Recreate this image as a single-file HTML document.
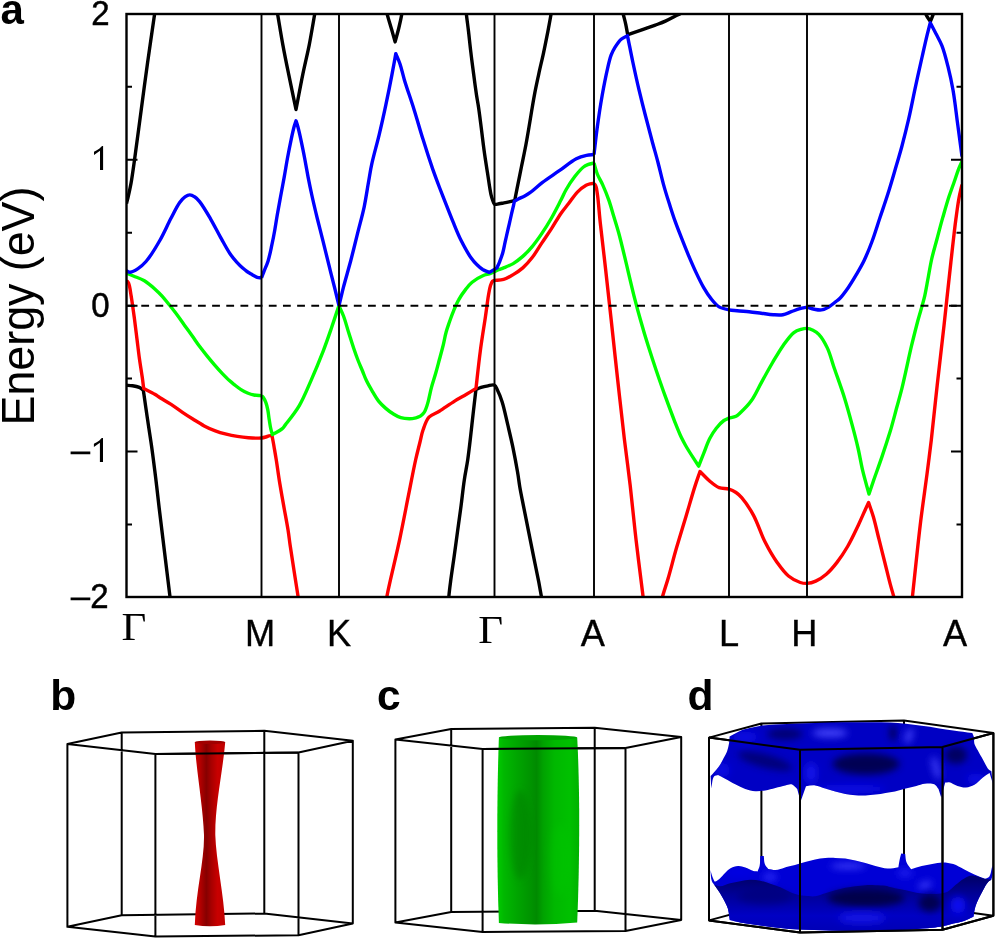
<!DOCTYPE html><html><head><meta charset="utf-8"><style>html,body{margin:0;padding:0;background:#fff;}svg{display:block;will-change:transform;}</style></head><body>
<svg width="995" height="939" viewBox="0 0 995 939">
<defs>
<linearGradient id="redg" x1="0" y1="0" x2="1" y2="0">
 <stop offset="0" stop-color="#d20000"/><stop offset="0.12" stop-color="#c00000"/><stop offset="0.38" stop-color="#860000"/><stop offset="0.55" stop-color="#a80000"/><stop offset="0.75" stop-color="#c80000"/><stop offset="1" stop-color="#c00000"/>
</linearGradient>
<linearGradient id="greeng" x1="0" y1="0" x2="1" y2="0">
 <stop offset="0" stop-color="#00cc00"/><stop offset="0.08" stop-color="#00b800"/><stop offset="0.25" stop-color="#00a400"/><stop offset="0.42" stop-color="#009200"/><stop offset="0.48" stop-color="#008a00"/><stop offset="0.56" stop-color="#00a200"/><stop offset="0.7" stop-color="#00b800"/><stop offset="0.88" stop-color="#00c000"/><stop offset="1" stop-color="#00b200"/>
</linearGradient>
</defs>
<clipPath id="pc"><rect x="126.5" y="14" width="835.5" height="583"/></clipPath>
<g clip-path="url(#pc)" fill="none" stroke-width="3.4" stroke-linejoin="round" stroke-linecap="butt">
<path d="M126.5,203.5 C127.0,201.5 127.4,199.9 128.0,197.5 C128.9,193.8 130.0,188.7 131.0,183.4 C132.2,176.6 133.2,169.2 134.5,159.9 C136.4,146.4 139.0,126.4 141.2,110.0 C143.3,94.1 145.3,79.0 147.5,63.2 C149.8,47.0 153.5,21.3 154.6,14.0 C154.9,11.9 155.0,11.3 155.2,10.0" stroke="#000000"/>
<path d="M126.5,385.3 C128.5,385.4 130.5,385.4 132.5,385.7 C134.7,386.0 137.4,386.5 139.3,387.4 C140.9,388.1 142.0,389.3 143.3,390.2 C144.0,394.8 144.6,399.2 145.3,404.0 C146.1,409.4 146.8,414.7 147.8,421.1 C149.0,429.5 150.8,440.4 152.1,449.9 C153.4,459.3 154.5,468.5 155.7,478.0 C156.9,487.9 157.7,495.5 159.2,508.2 C161.8,529.8 168.5,584.7 169.9,596.0 C170.2,598.7 170.3,599.3 170.5,601.0" stroke="#000000"/>
<path d="M276.8,10.0 C277.1,11.4 277.2,12.1 277.6,14.1 C278.6,19.6 281.0,34.9 282.9,45.1 C284.7,55.0 286.6,64.2 288.7,74.4 C291.0,85.6 293.6,97.8 296.0,109.5 C298.3,97.8 300.5,85.6 302.8,74.4 C304.9,64.2 307.2,55.0 309.2,45.1 C311.2,34.9 313.7,19.6 314.7,14.1 C315.0,12.1 315.2,11.4 315.4,10.0" stroke="#000000"/>
<path d="M386.2,10.0 C386.5,11.4 386.6,12.3 387.1,14.1 C388.0,17.5 390.1,24.2 391.5,29.0 C392.8,33.4 393.9,37.6 395.1,41.9 C396.3,37.3 397.7,32.6 398.8,28.0 C399.9,23.4 401.2,17.4 401.8,14.1 C402.1,12.3 402.3,11.4 402.5,10.0" stroke="#000000"/>
<path d="M466.2,10.0 C466.3,11.3 466.2,12.2 466.4,14.0 C466.7,17.7 467.8,25.2 468.5,31.3 C469.3,38.0 470.0,45.5 470.9,52.6 C471.7,59.7 472.7,66.7 473.6,73.8 C474.5,80.9 475.6,89.0 476.5,95.1 C477.2,99.6 477.8,102.5 478.5,107.0 C479.4,112.9 480.3,120.4 481.2,127.4 C482.1,134.7 483.0,142.3 484.0,149.8 C485.0,157.3 486.2,164.7 487.4,172.2 C488.6,179.7 489.8,189.6 491.0,194.6 C491.6,197.2 492.1,198.8 492.8,200.5 C493.3,201.9 493.5,203.6 494.5,204.2 C495.5,204.8 497.5,204.0 499.0,203.8 C500.6,203.6 502.3,203.2 504.0,202.9 C505.7,202.6 507.3,202.3 509.0,201.9 C510.8,201.5 512.8,201.0 514.7,200.6 C515.4,196.9 516.0,193.8 516.9,189.4 C518.1,183.2 519.9,174.5 521.4,167.0 C522.9,159.6 524.5,152.2 525.9,144.7 C527.3,137.3 528.7,128.7 529.8,122.3 C530.6,117.6 531.1,114.3 531.8,110.0 C532.6,105.3 533.4,100.5 534.4,95.1 C535.6,88.6 537.3,80.9 538.8,73.8 C540.3,66.7 542.1,59.7 543.6,52.6 C545.1,45.5 546.6,38.0 547.9,31.3 C549.1,25.2 550.4,17.7 551.1,14.0 C551.4,12.2 551.6,11.3 551.8,10.0" stroke="#000000"/>
<path d="M448.5,601.0 C448.6,599.3 448.7,598.1 448.9,596.0 C449.2,592.5 449.8,587.5 450.5,582.2 C451.4,575.0 452.9,565.2 454.1,556.7 C455.3,548.2 456.4,539.6 457.6,531.1 C458.8,522.6 460.0,514.1 461.1,505.6 C462.2,497.1 463.1,488.0 464.3,480.0 C465.3,472.9 466.7,466.9 467.7,460.0 C468.8,452.5 469.7,444.3 470.6,436.5 C471.5,428.7 472.3,420.9 473.2,413.1 C474.1,405.3 475.0,397.5 475.9,389.7 C477.6,388.9 479.2,388.0 481.1,387.4 C483.2,386.7 485.7,386.2 488.0,385.8 C490.2,385.4 492.9,384.4 494.5,385.2 C495.9,385.9 496.3,387.8 497.3,389.7 C498.8,392.7 500.5,396.8 502.0,401.5 C504.1,407.9 505.9,417.1 507.8,424.9 C509.6,432.7 511.5,440.6 513.1,448.4 C514.7,456.2 516.3,464.8 517.5,471.8 C518.5,477.4 518.9,481.7 519.8,487.0 C520.8,492.9 522.1,498.9 523.4,505.6 C524.9,513.4 526.8,522.6 528.5,531.1 C530.2,539.6 531.9,548.2 533.6,556.7 C535.3,565.2 537.4,575.0 538.8,582.2 C539.8,587.5 540.7,592.5 541.3,596.0 C541.7,598.1 541.9,599.3 542.2,601.0" stroke="#000000"/>
<path d="M622.5,10.0 C622.7,11.3 622.9,12.4 623.2,14.0 C623.8,16.6 625.0,20.7 625.7,24.1 C626.5,27.6 627.0,31.2 627.7,34.8 C630.2,33.9 632.5,33.0 635.2,32.1 C638.3,31.0 641.9,29.8 645.3,28.6 C648.6,27.4 652.0,26.3 655.3,25.1 C658.7,23.8 662.1,22.6 665.4,21.1 C668.8,19.6 672.6,17.4 675.4,16.0 C677.4,15.0 679.0,14.4 680.5,13.5 C681.8,12.7 682.8,11.8 684.0,11.0" stroke="#000000"/>
<path d="M925.0,10.0 C925.2,11.3 925.1,12.5 925.7,14.0 C926.5,16.2 928.8,19.0 930.3,21.5 C931.3,19.0 932.7,16.1 933.4,14.0 C933.9,12.5 934.1,11.3 934.5,10.0" stroke="#000000"/>
<path d="M126.5,280.5 C127.2,281.4 128.0,281.9 128.6,283.3 C129.8,285.9 130.4,291.4 131.1,295.6 C131.8,299.8 132.4,304.2 133.0,308.4 C133.6,312.4 134.0,315.6 134.6,320.0 C135.3,325.6 136.2,332.8 137.0,339.2 C137.8,345.6 138.5,352.0 139.4,358.4 C140.3,364.8 141.5,372.1 142.3,377.6 C142.9,381.8 143.2,384.9 143.7,388.6 C147.4,390.5 151.8,392.6 154.8,394.3 C156.9,395.5 157.9,396.4 160.0,397.7 C163.0,399.6 167.4,402.0 171.1,404.4 C174.8,406.8 178.4,409.6 182.1,412.1 C185.8,414.6 189.5,417.0 193.2,419.3 C196.9,421.6 200.5,423.9 204.2,425.9 C207.8,427.8 211.6,429.5 215.3,430.9 C218.9,432.3 222.6,433.3 226.3,434.2 C230.0,435.1 233.7,435.8 237.4,436.4 C241.1,437.0 245.1,437.5 248.4,437.8 C251.2,438.0 253.7,438.1 256.0,438.1 C258.0,438.1 259.8,438.2 261.5,438.0 C263.0,437.8 264.4,437.4 265.8,437.0 C267.2,436.6 268.6,435.7 269.8,435.6 C270.7,435.5 271.3,435.9 272.1,436.0 C272.7,439.5 273.4,442.8 274.0,446.5 C274.7,450.6 275.4,454.5 276.2,459.5 C277.3,466.2 278.4,475.1 279.7,482.9 C281.0,490.7 282.4,498.6 283.8,506.4 C285.2,514.2 286.9,522.8 288.0,529.8 C288.9,535.4 289.3,539.4 290.1,545.1 C291.2,552.5 292.7,562.0 294.0,570.5 C295.3,579.0 297.2,590.8 298.0,596.0 C298.4,598.3 298.5,599.3 298.8,601.0" stroke="#ff0000"/>
<path d="M386.5,601.0 C386.7,599.3 386.6,598.6 387.0,596.0 C388.4,587.3 396.1,556.5 399.8,538.8 C403.0,523.6 405.6,509.8 408.3,496.2 C410.8,483.6 413.4,470.0 415.6,460.0 C417.2,452.9 418.7,447.4 420.0,442.0 C421.1,437.5 421.7,433.8 423.1,429.8 C424.6,425.6 426.1,420.3 429.0,417.2 C431.7,414.3 435.6,413.6 439.3,411.3 C443.9,408.4 449.8,404.1 454.6,401.1 C458.8,398.5 462.8,396.5 466.5,394.3 C469.9,392.3 472.8,390.4 476.0,388.4 C477.4,376.0 478.7,363.2 480.3,351.1 C481.8,339.5 483.9,327.1 485.4,317.0 C486.6,308.9 487.5,300.8 488.5,295.0 C489.2,291.2 489.7,288.0 490.5,285.5 C491.1,283.8 491.7,282.1 492.5,281.3 C493.1,280.7 493.8,280.7 494.5,280.4" stroke="#ff0000"/>
<path d="M494.5,280.4 C497.5,280.1 500.6,280.3 503.6,279.4 C506.8,278.4 510.1,276.5 513.2,274.6 C516.5,272.7 519.7,270.6 522.8,267.9 C526.2,264.9 529.4,261.2 532.4,257.3 C535.7,253.0 538.7,247.7 541.9,242.9 C545.1,238.1 548.3,233.5 551.5,228.6 C554.7,223.6 558.0,217.7 561.1,213.2 C563.7,209.5 566.2,206.7 568.8,203.3 C571.6,199.7 574.3,195.2 577.4,192.1 C580.1,189.3 583.7,186.5 586.1,185.2 C587.6,184.4 588.7,184.1 590.0,183.8 C591.3,183.5 592.7,183.6 594.0,183.5" stroke="#ff0000"/>
<path d="M594.0,183.5 C594.6,184.3 595.3,184.8 595.8,186.0 C596.7,188.0 596.9,191.1 597.5,195.0 C598.5,201.9 599.2,213.3 600.4,224.0 C601.8,237.4 603.9,253.8 605.6,269.3 C607.4,285.7 609.3,302.4 611.2,320.0 C613.3,339.2 615.5,360.1 617.7,380.0 C619.9,399.7 622.1,420.2 624.3,438.6 C626.3,455.1 628.3,469.3 630.2,485.5 C632.2,502.8 633.9,521.2 636.0,539.4 C638.2,558.0 641.9,587.4 643.0,596.0 C643.3,598.6 643.4,599.3 643.6,601.0" stroke="#ff0000"/>
<path d="M661.8,601.0 C662.1,599.3 662.2,598.2 662.7,596.0 C663.7,591.9 666.2,585.2 668.1,578.5 C670.7,569.7 673.6,557.9 676.6,547.6 C679.6,537.3 682.8,527.0 685.9,516.7 C689.0,506.4 692.4,494.2 695.1,485.9 C696.9,480.2 698.4,476.3 700.0,471.5 C703.2,474.7 706.3,478.2 709.6,481.0 C712.7,483.6 715.7,486.4 719.1,487.7 C722.2,488.9 726.0,488.2 729.0,489.1 C731.6,489.9 733.9,491.1 736.0,492.5 C738.1,493.9 739.6,495.2 741.7,497.6 C745.1,501.6 749.8,508.5 753.4,515.1 C757.7,523.0 760.9,533.9 765.1,542.1 C768.8,549.4 772.6,556.1 776.8,562.0 C780.5,567.2 784.2,572.5 788.5,576.0 C792.2,579.0 796.8,581.4 800.3,582.5 C802.8,583.3 804.6,583.5 807.0,583.4 C809.7,583.2 812.8,582.4 815.7,581.1 C819.2,579.6 822.9,577.1 826.3,574.2 C830.1,571.0 833.6,566.8 837.0,562.4 C840.7,557.6 844.2,552.3 847.6,546.5 C851.4,540.0 855.4,531.3 858.3,525.2 C860.4,520.7 861.9,517.3 863.6,513.4 C865.3,509.7 866.9,506.1 868.6,502.5 C870.2,507.4 871.9,511.8 873.5,517.3 C875.4,524.0 877.2,532.2 879.1,539.7 C881.0,547.1 882.8,554.6 884.7,562.0 C886.6,569.5 888.6,578.2 890.3,584.4 C891.5,588.9 892.8,592.9 893.6,596.0 C894.1,598.0 894.4,599.3 894.8,601.0" stroke="#ff0000"/>
<path d="M911.9,601.0 C912.1,599.3 912.2,598.6 912.5,596.0 C913.6,586.1 917.6,546.9 920.2,525.2 C922.4,506.8 925.0,489.4 927.0,474.1 C928.6,461.6 929.8,452.7 931.3,440.0 C933.2,423.9 935.1,403.8 937.2,385.2 C939.4,365.7 941.8,345.8 944.0,325.6 C946.3,304.7 948.7,281.2 950.9,262.0 C952.7,246.0 954.4,230.0 956.0,218.2 C957.1,210.2 957.9,204.0 959.0,198.0 C959.9,193.0 961.0,189.0 962.0,184.5" stroke="#ff0000"/>
<path d="M126.5,273.2 C129.0,274.2 131.2,275.1 133.9,276.2 C137.1,277.5 141.0,278.7 144.4,280.7 C148.0,282.9 151.7,286.1 154.8,288.9 C157.6,291.4 159.9,293.6 162.3,296.3 C164.8,299.1 167.2,302.2 169.7,305.3 C172.2,308.5 174.7,311.7 177.2,315.0 C179.7,318.4 182.1,321.9 184.6,325.4 C187.1,328.9 189.6,332.3 192.1,335.8 C194.6,339.3 197.0,342.9 199.5,346.3 C202.0,349.6 204.5,352.8 207.0,355.9 C209.5,359.0 212.0,362.0 214.5,364.9 C216.9,367.7 219.4,370.5 221.9,373.1 C224.4,375.7 227.2,378.6 229.4,380.6 C231.1,382.1 232.2,383.0 233.9,384.3 C236.0,385.9 238.6,388.1 241.0,389.6 C243.2,391.0 245.3,392.1 247.5,393.0 C249.6,393.9 251.7,394.6 254.0,395.0 C256.4,395.5 259.0,395.4 261.5,395.6" stroke="#00ff00"/>
<path d="M261.5,395.6 C262.2,396.3 262.9,396.9 263.5,397.8 C264.3,399.0 265.1,400.6 265.8,402.4 C266.6,404.6 267.3,407.2 267.8,409.9 C268.4,412.9 268.7,416.5 269.2,419.6 C269.7,422.6 270.1,425.6 270.7,428.3 C271.2,430.6 271.8,432.5 272.4,434.6 C275.6,432.7 279.7,430.9 282.0,428.9 C283.7,427.5 284.1,426.4 285.7,424.4 C288.9,420.3 295.2,412.6 299.3,405.6 C303.8,397.9 307.3,388.9 311.2,380.1 C315.3,370.8 319.6,360.3 323.2,351.1 C326.4,342.8 329.0,335.1 331.7,327.3 C334.2,319.9 336.5,312.9 338.9,305.7" stroke="#00ff00"/>
<path d="M338.9,305.7 C340.4,309.1 342.0,312.1 343.5,316.0 C345.3,320.7 346.8,326.7 348.5,332.0 C350.2,337.3 351.9,342.9 353.6,348.0 C355.2,352.7 356.9,357.4 358.5,361.5 C359.9,365.0 361.2,367.8 362.5,371.0 C363.8,374.1 364.8,377.2 366.3,380.3 C367.9,383.7 370.0,387.3 372.1,390.8 C374.2,394.4 376.4,398.4 378.8,401.4 C380.9,404.0 383.1,406.0 385.5,408.1 C387.9,410.2 390.5,412.2 393.1,413.8 C395.6,415.3 398.1,416.9 400.8,417.7 C403.5,418.5 406.7,418.7 409.4,418.7 C411.7,418.7 414.2,418.2 416.0,417.8 C417.4,417.5 418.4,417.2 419.5,416.6 C420.5,416.1 421.4,415.3 422.3,414.5 C423.2,413.6 423.9,412.9 424.7,411.5 C425.9,409.3 427.1,405.5 428.1,401.9 C429.3,397.6 430.1,392.4 431.4,387.6 C432.7,382.8 434.3,378.0 435.7,373.2 C437.1,368.4 438.3,363.6 439.6,358.8 C440.9,354.0 442.3,349.0 443.4,344.4 C444.4,340.2 445.0,336.1 446.1,332.2 C447.1,328.5 448.4,325.1 449.6,321.5 C450.9,317.9 452.1,314.3 453.6,310.8 C455.1,307.2 456.5,303.6 458.5,300.1 C460.5,296.4 463.3,292.5 465.7,289.4 C467.8,286.7 469.5,284.4 472.1,282.3 C475.1,279.8 479.6,277.2 482.8,275.8 C485.1,274.7 487.2,274.5 489.2,273.8 C491.1,273.1 492.7,272.3 494.5,271.6" stroke="#00ff00"/>
<path d="M494.5,271.6 C495.8,271.0 497.1,270.4 498.5,269.8 C500.1,269.1 501.6,268.7 503.6,267.9 C506.3,266.8 510.1,265.4 513.2,263.6 C516.5,261.6 519.7,259.1 522.8,256.4 C526.1,253.4 529.3,250.0 532.4,246.3 C535.7,242.4 538.8,238.0 541.9,233.4 C545.2,228.6 548.4,223.4 551.5,218.0 C554.8,212.2 558.4,205.0 561.1,199.8 C563.1,195.9 564.1,193.1 566.2,189.5 C568.6,185.3 571.8,180.4 574.8,176.5 C577.6,173.0 580.8,169.0 583.5,167.0 C585.3,165.6 586.8,165.1 588.5,164.4 C590.3,163.7 592.2,163.5 594.0,163.0" stroke="#00ff00"/>
<path d="M594.0,163.0 C595.1,166.7 595.9,170.4 597.3,174.0 C598.7,177.6 600.8,180.7 602.6,184.6 C604.7,189.3 607.1,195.2 609.0,200.6 C610.8,205.9 612.2,211.2 613.8,216.5 C615.4,221.8 617.0,226.8 618.6,232.5 C620.4,239.1 621.9,245.3 623.9,253.7 C626.9,265.8 631.4,285.7 634.5,297.9 C636.7,306.5 638.3,312.4 640.5,320.0 C642.8,328.2 645.4,337.1 648.1,345.6 C650.8,354.2 653.6,362.7 656.5,371.2 C659.4,379.7 662.3,388.2 665.4,396.7 C668.5,405.2 672.1,414.9 675.0,422.3 C677.3,428.1 679.4,433.4 681.4,437.6 C682.9,440.7 683.9,442.6 685.6,445.5 C687.7,449.2 690.9,454.2 693.3,457.9 C695.2,460.9 696.9,463.4 698.7,466.1 C700.4,461.8 702.0,457.5 703.8,453.1 C705.7,448.4 707.4,443.1 709.6,438.8 C711.6,434.9 713.8,431.3 716.3,428.2 C718.6,425.3 721.5,422.2 723.9,420.5 C725.7,419.3 727.3,418.9 729.0,418.1" stroke="#00ff00"/>
<path d="M729.0,418.1 C731.3,417.5 734.0,417.2 736.0,416.2 C737.8,415.3 738.8,414.2 740.6,412.5 C743.5,409.8 748.0,405.4 751.3,400.8 C755.2,395.4 758.3,388.0 761.9,381.6 C765.4,375.2 769.0,368.7 772.6,362.5 C776.1,356.6 779.5,350.6 783.2,345.4 C786.6,340.7 790.4,335.3 793.9,332.6 C796.3,330.8 798.7,330.1 801.0,329.4 C803.0,328.8 805.0,328.3 807.0,328.4 C809.0,328.5 811.1,329.3 813.0,330.2 C815.0,331.2 816.9,332.3 818.8,334.3 C821.7,337.3 824.9,342.8 827.3,347.9 C830.1,353.8 831.7,360.6 834.2,368.0 C837.3,377.0 841.5,388.3 844.5,398.0 C847.3,407.0 849.7,415.8 852.0,424.4 C854.2,432.5 856.2,440.2 858.0,448.0 C859.8,455.6 860.9,463.1 862.7,470.7 C864.5,478.4 866.9,486.2 869.0,494.0 C870.3,490.1 871.4,486.9 873.0,482.2 C875.4,475.3 879.1,465.1 882.0,456.6 C884.9,448.1 887.7,439.6 890.3,431.1 C892.8,422.6 895.2,413.1 897.3,405.5 C899.0,399.4 900.4,394.4 901.8,388.9 C903.2,383.4 904.2,378.4 905.6,372.3 C907.3,364.7 909.3,355.2 911.3,346.7 C913.3,338.2 915.5,329.7 917.7,321.2 C920.0,312.7 923.0,303.5 924.8,295.6 C926.3,288.9 927.1,283.1 928.3,277.0 C929.4,271.0 930.3,265.2 931.7,259.0 C933.2,252.3 935.4,245.1 937.2,238.2 C939.1,231.3 940.8,224.3 942.8,217.4 C944.8,210.5 947.0,202.8 949.0,196.6 C950.7,191.5 952.3,187.3 953.9,182.7 C955.5,178.1 957.2,172.8 958.7,168.9 C959.8,166.0 960.9,164.0 962.0,161.5" stroke="#00ff00"/>
<path d="M126.5,270.8 C127.8,271.3 128.8,272.3 130.3,272.2 C132.4,272.1 135.5,270.2 138.0,268.6 C140.8,266.8 143.2,264.7 146.0,261.5 C150.3,256.5 155.7,247.7 159.8,240.5 C163.9,233.4 167.2,225.5 170.7,218.8 C173.8,212.9 176.9,206.4 179.7,202.5 C181.5,200.0 183.1,198.1 185.0,196.8 C186.5,195.8 188.2,194.9 189.8,194.9 C191.4,194.9 193.1,195.8 194.6,196.8 C196.4,197.9 197.8,199.4 199.6,201.6 C202.7,205.4 207.0,212.8 210.5,218.8 C214.2,225.1 217.8,232.5 221.3,238.7 C224.4,244.2 227.3,249.8 230.2,254.0 C232.4,257.2 234.5,259.7 236.7,262.1 C238.7,264.3 240.8,266.4 242.7,268.1 C244.2,269.4 245.6,270.5 247.0,271.5 C248.4,272.5 249.6,273.2 251.1,274.1 C252.9,275.1 255.3,276.7 257.2,277.3 C258.7,277.8 260.1,277.6 261.5,277.8" stroke="#0000ff"/>
<path d="M261.5,277.8 C262.4,275.5 263.1,273.5 264.1,271.0 C265.3,268.0 266.9,264.7 268.1,260.9 C269.5,256.4 270.6,250.8 271.7,245.7 C272.8,240.6 273.8,235.6 274.7,230.5 C275.6,225.4 276.3,220.6 277.2,215.3 C278.2,209.5 279.4,203.2 280.5,197.0 C281.7,190.5 283.0,183.7 284.2,177.1 C285.4,170.7 286.3,164.4 287.5,158.0 C288.7,151.6 290.1,144.5 291.3,138.8 C292.3,134.1 293.4,129.3 294.3,126.0 C294.9,123.9 295.4,122.5 296.0,120.8 C296.6,122.7 297.2,124.2 297.8,126.5 C298.7,129.8 299.7,134.2 300.7,138.8 C301.9,144.5 303.4,151.6 304.6,158.0 C305.8,164.4 306.9,170.8 308.1,177.1 C309.3,183.2 310.4,188.6 311.8,195.0 C313.4,202.3 315.4,210.7 317.3,218.5 C319.2,226.3 321.3,234.1 323.2,241.9 C325.2,249.7 327.0,257.6 329.0,265.4 C330.9,273.2 333.1,281.6 334.9,288.8 C336.4,294.9 337.6,300.1 339.0,305.7" stroke="#0000ff"/>
<path d="M339.0,305.7 C340.5,299.6 341.7,294.1 343.4,287.4 C345.5,279.3 348.4,269.5 350.8,260.5 C353.1,251.6 355.3,242.6 357.5,233.7 C359.7,224.7 362.3,215.7 364.2,206.8 C366.0,198.1 367.3,188.7 368.7,181.0 C369.8,174.9 370.3,170.7 371.7,164.4 C373.5,155.9 376.8,144.6 379.2,134.6 C381.6,124.7 383.8,114.7 385.9,104.7 C388.0,94.8 390.4,82.8 391.9,74.9 C392.9,69.7 393.6,65.8 394.3,62.0 C394.9,58.9 395.3,56.4 395.8,53.6 C397.2,57.1 398.7,60.1 400.0,64.0 C401.6,68.7 402.6,73.8 404.4,79.9 C406.9,88.3 411.0,99.7 414.1,109.7 C417.2,119.6 420.0,129.7 423.1,139.6 C426.2,149.6 429.8,160.7 432.8,169.4 C435.2,176.2 437.2,181.5 439.5,187.5 C441.8,193.4 444.1,199.2 446.4,205.1 C448.7,211.0 451.0,216.9 453.4,222.7 C455.8,228.6 458.1,234.5 461.0,240.3 C464.0,246.2 467.9,253.4 471.0,257.8 C473.1,260.8 474.9,262.8 477.0,264.8 C478.8,266.6 480.7,268.2 482.7,269.5 C484.7,270.7 487.0,271.4 489.1,272.4 C490.9,271.4 493.1,270.3 494.5,269.4 C495.5,268.8 496.2,268.3 497.0,267.8 C497.9,265.7 498.8,263.9 499.7,261.6 C500.7,259.0 501.9,255.9 502.7,253.0 C503.5,250.2 504.0,247.3 504.6,244.5 C505.2,241.7 505.8,239.1 506.5,236.0 C507.3,232.3 508.4,227.6 509.3,223.8 C510.1,220.4 510.8,217.2 511.5,214.0 C512.2,210.8 513.2,207.0 513.7,204.6 C514.0,203.2 514.2,202.3 514.4,201.2 C515.7,200.5 516.8,199.8 518.3,199.0 C520.2,198.0 522.7,197.0 524.7,195.9 C526.6,194.9 527.9,194.2 530.0,192.7 C533.3,190.4 537.7,186.0 542.2,182.6 C547.3,178.7 553.6,174.7 559.3,170.7 C565.0,166.7 571.2,161.3 576.3,158.7 C580.0,156.8 583.3,156.0 586.5,155.3 C589.2,154.7 591.5,154.8 594.0,154.6" stroke="#0000ff"/>
<path d="M594.0,154.6 C595.0,146.2 595.8,138.4 597.0,129.3 C598.4,118.8 600.3,105.9 602.2,95.2 C603.9,85.7 605.9,75.6 607.6,68.3 C608.8,63.1 609.7,59.0 611.1,55.2 C612.3,52.1 613.5,49.8 615.1,47.2 C616.8,44.5 618.9,41.1 621.2,39.2 C623.1,37.6 625.4,36.9 627.5,35.8 C629.3,44.5 630.9,53.1 632.8,62.0 C634.8,71.4 637.0,81.4 639.2,90.7 C641.3,99.5 643.4,107.9 645.6,116.3 C647.7,124.4 649.8,132.4 651.9,140.2 C653.9,147.8 656.1,155.1 658.0,162.5 C659.9,169.7 661.5,177.1 663.4,184.1 C665.2,190.7 667.2,197.1 669.2,203.3 C671.1,209.2 672.9,215.0 674.9,220.6 C676.8,225.9 678.6,230.5 680.7,235.9 C683.1,241.9 685.8,248.9 688.4,255.1 C690.9,261.0 693.4,266.8 696.0,272.4 C698.5,277.7 701.0,283.0 703.7,287.7 C706.1,291.9 708.7,295.9 711.4,299.2 C713.8,302.2 716.1,305.1 719.1,306.9 C722.0,308.6 725.8,309.2 729.0,309.8 C731.8,310.4 734.1,310.4 737.1,310.7 C740.7,311.1 745.1,311.3 749.1,311.7 C753.1,312.1 757.2,312.7 761.2,313.2 C765.2,313.7 769.5,314.5 773.3,314.7 C776.7,314.9 779.9,315.2 782.9,314.7 C785.8,314.2 788.5,312.7 791.3,311.7 C794.1,310.7 797.1,309.5 799.8,308.7 C802.3,308.0 804.6,307.7 807.0,307.2" stroke="#0000ff"/>
<path d="M807.0,307.2 C809.4,307.9 811.9,308.9 814.3,309.3 C816.7,309.7 819.1,310.3 821.5,309.9 C823.9,309.5 826.4,308.2 828.7,306.9 C831.2,305.5 833.9,303.1 836.0,301.5 C837.6,300.3 838.5,299.7 840.0,298.2 C842.3,295.8 845.4,291.6 848.0,287.9 C850.8,283.9 853.4,279.5 856.0,275.1 C858.7,270.5 861.5,265.9 864.0,260.7 C866.8,254.8 869.5,248.3 872.0,241.5 C874.8,234.0 877.3,225.5 880.0,217.5 C882.7,209.5 885.5,201.6 888.0,193.6 C890.5,185.7 892.8,177.7 895.1,169.8 C897.4,161.9 899.7,154.4 901.9,146.2 C904.2,137.5 906.5,128.4 908.7,118.9 C911.1,108.6 913.2,97.2 915.5,86.6 C917.7,76.3 920.2,65.4 922.3,56.0 C924.1,48.0 925.9,39.9 927.4,33.8 C928.5,29.5 929.3,26.5 930.3,22.8 C932.2,26.5 934.1,30.1 936.0,33.8 C938.0,37.7 940.1,41.1 941.9,45.7 C944.2,51.5 946.1,59.1 947.9,66.2 C949.8,73.8 951.5,81.5 953.0,90.0 C954.7,99.5 955.8,110.0 957.2,120.6 C958.8,132.1 960.4,144.5 962.0,156.5" stroke="#0000ff"/>
</g>
<path d="M261.5,14V597 M339.0,14V597 M494.5,14V597 M594.0,14V597 M729.0,14V597 M807.0,14V597 " stroke="#000" stroke-width="1.9" fill="none"/>
<path d="M127.1,305.7H961" stroke="#000" stroke-width="2" stroke-dasharray="7.8 6.37" fill="none"/>
<path d="M126.5,524.5h5.5 M962,524.5h-5.5 M126.5,451.6h11.0 M962,451.6h-11.0 M126.5,378.6h5.5 M962,378.6h-5.5 M126.5,305.7h11.0 M962,305.7h-11.0 M126.5,232.8h5.5 M962,232.8h-5.5 M126.5,159.8h11.0 M962,159.8h-11.0 M126.5,86.8h5.5 M962,86.8h-5.5 " stroke="#000" stroke-width="2" fill="none"/>
<rect x="126.5" y="14" width="835.5" height="583" fill="none" stroke="#000" stroke-width="2.4"/>
<g font-family="Liberation Sans, sans-serif" font-size="33" text-anchor="end" fill="#000" stroke="#000" stroke-width="0.45"><text transform="translate(109.5,25.1) scale(1,1.057)">2</text><text transform="translate(109.5,316.8) scale(1,1.057)">0</text><text transform="translate(108.6,608.3) scale(1,1.057)">2</text></g><path d="M103.1,146.0 L103.1,170.1 L100.0,170.1 L100.0,150.8 L94.0,155.0 L94.0,151.8 L96.8,150.3 L99.5,148.5 L101.5,146.4 L102.4,146.0ZM103.0,437.9 L103.0,462.0 L99.9,462.0 L99.9,442.7 L93.9,446.9 L93.9,443.7 L96.7,442.2 L99.4,440.4 L101.4,438.3 L102.3,437.9ZM70.6,451.5h19.7v2.8h-19.7Z M70.6,597.4h19.7v2.8h-19.7Z" fill="#000"/><g font-family="Liberation Sans, sans-serif" font-size="36.2" text-anchor="middle" fill="#000" stroke="#000" stroke-width="0.35"><text transform="translate(260.2,646.2) scale(1,1.025)">M</text><text transform="translate(339.0,646.2) scale(1,1.025)">K</text><text transform="translate(592.8,646.2) scale(1,1.025)">A</text><text transform="translate(729.0,646.2) scale(1,1.025)">L</text><text transform="translate(804.4,646.2) scale(1,1.025)">H</text><text transform="translate(955.0,646.2) scale(1,1.025)">A</text></g><g font-family="Liberation Serif, serif" font-size="39" text-anchor="middle" fill="#000"><text transform="translate(133.9,640.0) scale(1.1,1)">Γ</text><text transform="translate(490.6,642.8) scale(1.1,1)">Γ</text></g><text font-family="Liberation Sans, sans-serif" font-size="46" fill="#000" transform="translate(33.9,425.4) rotate(-90) scale(0.973,1)">Energy (eV)</text><g font-family="Liberation Sans, sans-serif" font-size="42" font-weight="bold" fill="#000"><text x="0.5" y="23.8">a</text></g><g font-family="Liberation Sans, sans-serif" font-size="42.5" font-weight="bold" fill="#000"><text x="50.2" y="709.9">b</text><text x="377" y="709.9">c</text><text x="687.6" y="709.9">d</text></g>
<g fill="none" stroke="#000" stroke-width="2" stroke-linejoin="round"><path d="M67.4,744.1 L121.7,732.6 L264.3,730.8 L352.8,740.7 L298.5,752.5 L155.4,753.9Z M67.4,926.8 L121.7,915.3 L264.3,913.5 L352.8,923.4 L298.5,935.2 L155.4,936.6Z M67.4,744.1L67.4,926.8 M121.7,732.6L121.7,915.3 M264.3,730.8L264.3,913.5 M352.8,740.7L352.8,923.4 M298.5,752.5L298.5,935.2 M155.4,753.9L155.4,936.6 "/></g><path d="M194.8,742 C196,770 203,805 204,835 C204.5,860 196,890 194.8,925 Q210,927.5 225.2,925 C224,895 216,860 215.3,835 C215,805 223,770 225.2,742 Z" fill="url(#redg)"/><ellipse cx="210" cy="742.3" rx="15.2" ry="1.8" fill="#a00000"/><path d="M155.4,753.9 L298.5,752.5" stroke="#000" stroke-width="2"/><g fill="none" stroke="#000" stroke-width="2" stroke-linejoin="round"><path d="M395.4,739.4 L451.2,728.9 L594.7,727.7 L681.2,737.0 L625.5,747.9 L482.6,749.0Z M395.4,922.4 L451.2,911.9 L594.7,910.7 L681.2,920.0 L625.5,930.9 L482.6,932.0Z M395.4,739.4L395.4,922.4 M451.2,728.9L451.2,911.9 M594.7,727.7L594.7,910.7 M681.2,737.0L681.2,920.0 M625.5,747.9L625.5,930.9 M482.6,749.0L482.6,932.0 "/></g><path d="M498.9,737.5 C497,790 496.5,860 498.9,923 Q538,926 577.2,922.5 C579.8,860 580,790 577.2,737.5 Z" fill="url(#greeng)"/><clipPath id="cG"><path d="M498.9,737.5 C497,790 496.5,860 498.9,923 Q538,926 577.2,922.5 C579.8,860 580,790 577.2,737.5 Z"/></clipPath><g clip-path="url(#cG)"><g filter="url(#bl4)"><ellipse cx="520" cy="835" rx="10" ry="45" fill="#006a00" fill-opacity="0.35"/><ellipse cx="560" cy="860" rx="10" ry="35" fill="#10d010" fill-opacity="0.25"/></g></g><ellipse cx="538" cy="737.6" rx="39.2" ry="2.6" fill="#00a400"/><path d="M482.6,749.0 L625.5,747.9" stroke="#000" stroke-width="2"/><g fill="none" stroke="#000" stroke-width="2" stroke-linejoin="round"><path d="M709.0,737.6 L761.4,723.5 L904.0,720.6 L993.4,733.0 L942.5,747.0 L800.0,749.8Z M709.0,920.4 L761.4,906.3 L904.0,903.4 L993.4,915.8 L942.5,929.8 L800.0,932.6Z M709.0,737.6L709.0,920.4 M761.4,723.5L761.4,906.3 M904.0,720.6L904.0,903.4 M993.4,733.0L993.4,915.8 M942.5,747.0L942.5,929.8 M800.0,749.8L800.0,932.6 "/></g><defs><filter id="bl4" x="-20%" y="-50%" width="140%" height="200%"><feGaussianBlur stdDeviation="3.5"/></filter><clipPath id="cU"><path d="M729.6,736.6 C731.5,735.6 733.2,734.6 735.2,733.6 C737.4,732.5 739.6,731.1 742.2,730.1 C745.2,729.0 748.9,728.4 752.3,727.6 C755.6,726.9 758.7,726.1 762.3,725.6 C766.4,725.0 770.3,724.8 775.4,724.5 C782.3,724.1 791.4,723.9 800.0,723.6 C809.5,723.3 820.0,722.8 830.0,722.6 C840.0,722.4 850.0,722.2 860.0,722.2 C870.0,722.2 879.9,722.0 890.0,722.6 C900.4,723.2 911.2,724.4 921.7,725.7 C932.3,727.0 944.1,729.2 953.3,730.5 C960.4,731.5 966.0,732.2 972.3,733.1 L972.3,733.1 C972.8,734.4 973.5,735.5 973.9,737.0 C974.3,738.9 973.8,741.6 974.4,743.7 C975.0,745.9 976.4,747.7 977.6,750.0 C979.1,752.9 981.1,756.3 982.9,759.5 C984.8,762.8 986.9,767.7 988.7,769.5 C989.6,770.4 990.4,770.5 991.3,771.0 L991.3,771.0 L992.9,783.8 L992.9,783.8 L989.6,773.0 L989.6,773.0 C987.4,774.5 985.2,775.7 982.9,777.4 C980.2,779.5 977.4,783.1 974.4,784.8 C971.7,786.3 968.8,787.3 966.0,787.5 C963.2,787.7 960.3,786.8 957.5,785.9 C954.6,785.0 951.4,782.6 949.1,782.2 C947.6,782.0 946.5,782.5 945.2,782.6 L945.2,782.6 L941.2,797.5 L941.2,797.5 L938.5,789.0 L938.5,789.0 C937.1,787.4 936.2,785.2 934.3,784.3 C931.9,783.2 927.8,783.5 924.8,783.8 C921.9,784.1 919.4,785.2 916.4,785.9 C913.1,786.7 909.3,787.6 905.8,788.5 C902.2,789.4 898.5,790.7 895.0,791.4 C891.8,792.1 888.7,792.4 885.5,792.9 C882.2,793.4 878.8,794.2 875.4,794.6 C872.1,795.0 868.7,795.3 865.4,795.4 C862.0,795.5 858.7,795.5 855.3,795.2 C852.0,794.9 848.6,794.5 845.3,793.9 C841.9,793.3 838.5,792.3 835.2,791.4 C831.8,790.5 828.5,789.4 825.2,788.4 C821.8,787.4 818.4,785.7 815.1,785.4 C812.0,785.1 809.0,785.9 806.0,786.2 L806.0,786.2 L800.6,801.4 L800.6,801.4 L797.2,789.0 L797.2,789.0 C795.3,787.4 793.6,784.8 791.5,784.3 C789.6,783.8 787.7,784.9 785.4,785.4 C782.5,786.0 778.7,787.1 775.4,787.9 C772.0,788.7 768.7,789.9 765.3,790.4 C762.0,790.9 758.6,791.4 755.3,791.2 C751.9,791.0 748.5,790.0 745.2,788.9 C741.8,787.7 738.5,786.0 735.2,784.3 C731.8,782.6 728.2,780.5 725.1,778.8 C722.6,777.4 720.4,776.3 718.1,775.0 L718.1,775.0 C716.7,775.5 715.1,775.3 714.0,776.5 C712.2,778.5 712.2,784.4 711.3,788.4 L711.3,788.4 L710.6,776.0 L710.6,776.0 C711.8,774.8 712.9,773.7 714.1,772.3 C715.6,770.6 717.5,768.6 719.1,766.3 C720.9,763.7 722.7,759.9 724.1,757.2 C725.3,755.0 726.3,753.4 727.1,751.2 C728.0,748.7 728.7,745.7 729.1,743.1 C729.5,740.8 729.4,738.8 729.6,736.6 Z"/></clipPath><clipPath id="cL"><path d="M710.4,870.1 C711.1,872.4 711.7,875.0 712.5,877.0 C713.1,878.7 713.8,880.0 714.5,881.5 L714.5,881.5 C715.0,881.4 715.5,881.5 716.1,881.2 C717.2,880.7 718.7,879.4 720.1,878.2 C721.7,876.8 723.4,874.7 725.1,873.1 C726.8,871.5 728.2,869.7 730.2,868.6 C732.5,867.3 735.6,866.2 738.2,866.1 C740.6,866.0 742.8,866.8 745.2,867.6 C747.8,868.4 751.0,870.5 753.3,871.1 C754.9,871.5 756.2,871.3 757.6,871.4 L757.6,871.4 C758.3,869.6 759.1,868.1 759.6,866.0 C760.2,863.2 760.1,859.4 760.3,856.1 L760.3,856.1 L763.8,856.1 L763.8,856.1 C764.1,858.7 763.9,861.7 764.8,864.0 C765.6,866.0 767.1,867.4 768.3,869.1 L768.3,869.1 C770.7,869.4 773.2,870.2 775.4,870.1 C777.2,870.0 778.6,869.6 780.4,869.1 C782.8,868.5 785.8,867.3 788.4,866.6 C790.7,866.0 792.6,865.7 795.0,865.1 C798.0,864.3 801.7,863.0 805.1,862.1 C808.4,861.2 811.7,860.3 815.1,859.6 C818.4,858.9 821.8,858.4 825.2,858.1 C828.5,857.8 831.9,857.8 835.2,857.9 C838.6,858.0 842.0,858.2 845.3,858.6 C848.7,859.1 852.0,859.9 855.3,860.6 C858.7,861.4 862.1,862.2 865.4,863.1 C868.8,864.0 871.9,865.2 875.4,866.1 C879.2,867.1 883.6,868.5 887.5,868.6 C891.2,868.7 894.8,867.7 898.4,867.2 L898.4,867.2 C898.9,864.1 899.5,860.5 900.0,858.0 C900.4,856.2 900.8,854.9 901.2,853.4 L901.2,853.4 L905.2,854.0 L905.2,854.0 C905.6,856.7 905.5,859.5 906.4,862.0 C907.4,864.6 909.5,866.9 911.1,869.3 L911.1,869.3 C914.6,868.2 918.2,867.0 921.7,866.1 C925.2,865.2 928.7,864.6 932.2,864.0 C935.7,863.4 939.3,862.4 942.8,862.4 C946.3,862.4 949.9,862.9 953.3,864.0 C956.9,865.1 960.4,867.5 963.9,869.3 C967.4,871.0 970.9,872.9 974.4,874.5 C977.9,876.1 981.5,877.4 985.0,878.8 L985.0,878.8 C986.4,878.1 988.1,878.0 989.2,876.7 C991.0,874.6 991.3,869.3 992.4,865.6 L992.4,865.6 C992.7,867.9 993.4,870.1 993.2,872.4 C993.0,874.8 991.9,877.3 991.3,879.8 L991.3,879.8 C990.2,880.5 989.2,880.8 988.1,881.9 C986.4,883.7 984.5,887.5 982.9,890.4 C981.3,893.2 979.9,896.1 978.6,898.8 C977.4,901.3 976.3,903.7 975.5,906.2 C974.7,908.6 974.3,911.6 973.9,913.6 C973.7,914.9 973.6,915.7 973.4,916.8 L973.4,916.8 C970.2,918.2 967.2,919.9 963.9,921.0 C960.5,922.2 956.8,922.7 953.3,923.6 C949.8,924.5 946.3,925.6 942.8,926.3 C939.3,927.0 936.3,927.4 932.2,927.8 C926.4,928.4 918.1,928.9 911.1,929.4 C904.1,929.8 897.7,930.3 890.0,930.5 C880.9,930.8 870.0,930.7 860.0,930.7 C850.0,930.7 840.0,930.6 830.0,930.4 C820.0,930.2 808.9,930.1 800.0,929.6 C792.8,929.2 787.0,928.7 780.4,928.0 C773.7,927.3 767.0,926.3 760.3,925.4 C753.6,924.5 745.8,923.5 740.2,922.4 C736.1,921.6 733.3,920.8 729.8,920.0 L729.8,920.0 C729.6,918.5 729.4,917.0 729.1,915.4 C728.8,913.5 728.7,911.4 728.1,909.3 C727.4,907.0 726.3,904.8 725.1,902.3 C723.7,899.4 721.8,896.0 720.1,893.2 C718.5,890.6 716.6,888.2 715.1,886.0 C713.9,884.2 712.6,883.1 711.8,881.0 C710.7,878.2 710.9,873.7 710.4,870.1 Z"/></clipPath><linearGradient id="frontg" gradientUnits="userSpaceOnUse" x1="0" y1="880" x2="0" y2="931"><stop offset="0" stop-color="#000070"/><stop offset="0.3" stop-color="#00009a"/><stop offset="0.7" stop-color="#0000c4"/><stop offset="1" stop-color="#0000b6"/></linearGradient></defs><path d="M729.6,736.6 C731.5,735.6 733.2,734.6 735.2,733.6 C737.4,732.5 739.6,731.1 742.2,730.1 C745.2,729.0 748.9,728.4 752.3,727.6 C755.6,726.9 758.7,726.1 762.3,725.6 C766.4,725.0 770.3,724.8 775.4,724.5 C782.3,724.1 791.4,723.9 800.0,723.6 C809.5,723.3 820.0,722.8 830.0,722.6 C840.0,722.4 850.0,722.2 860.0,722.2 C870.0,722.2 879.9,722.0 890.0,722.6 C900.4,723.2 911.2,724.4 921.7,725.7 C932.3,727.0 944.1,729.2 953.3,730.5 C960.4,731.5 966.0,732.2 972.3,733.1 L972.3,733.1 C972.8,734.4 973.5,735.5 973.9,737.0 C974.3,738.9 973.8,741.6 974.4,743.7 C975.0,745.9 976.4,747.7 977.6,750.0 C979.1,752.9 981.1,756.3 982.9,759.5 C984.8,762.8 986.9,767.7 988.7,769.5 C989.6,770.4 990.4,770.5 991.3,771.0 L991.3,771.0 L992.9,783.8 L992.9,783.8 L989.6,773.0 L989.6,773.0 C987.4,774.5 985.2,775.7 982.9,777.4 C980.2,779.5 977.4,783.1 974.4,784.8 C971.7,786.3 968.8,787.3 966.0,787.5 C963.2,787.7 960.3,786.8 957.5,785.9 C954.6,785.0 951.4,782.6 949.1,782.2 C947.6,782.0 946.5,782.5 945.2,782.6 L945.2,782.6 L941.2,797.5 L941.2,797.5 L938.5,789.0 L938.5,789.0 C937.1,787.4 936.2,785.2 934.3,784.3 C931.9,783.2 927.8,783.5 924.8,783.8 C921.9,784.1 919.4,785.2 916.4,785.9 C913.1,786.7 909.3,787.6 905.8,788.5 C902.2,789.4 898.5,790.7 895.0,791.4 C891.8,792.1 888.7,792.4 885.5,792.9 C882.2,793.4 878.8,794.2 875.4,794.6 C872.1,795.0 868.7,795.3 865.4,795.4 C862.0,795.5 858.7,795.5 855.3,795.2 C852.0,794.9 848.6,794.5 845.3,793.9 C841.9,793.3 838.5,792.3 835.2,791.4 C831.8,790.5 828.5,789.4 825.2,788.4 C821.8,787.4 818.4,785.7 815.1,785.4 C812.0,785.1 809.0,785.9 806.0,786.2 L806.0,786.2 L800.6,801.4 L800.6,801.4 L797.2,789.0 L797.2,789.0 C795.3,787.4 793.6,784.8 791.5,784.3 C789.6,783.8 787.7,784.9 785.4,785.4 C782.5,786.0 778.7,787.1 775.4,787.9 C772.0,788.7 768.7,789.9 765.3,790.4 C762.0,790.9 758.6,791.4 755.3,791.2 C751.9,791.0 748.5,790.0 745.2,788.9 C741.8,787.7 738.5,786.0 735.2,784.3 C731.8,782.6 728.2,780.5 725.1,778.8 C722.6,777.4 720.4,776.3 718.1,775.0 L718.1,775.0 C716.7,775.5 715.1,775.3 714.0,776.5 C712.2,778.5 712.2,784.4 711.3,788.4 L711.3,788.4 L710.6,776.0 L710.6,776.0 C711.8,774.8 712.9,773.7 714.1,772.3 C715.6,770.6 717.5,768.6 719.1,766.3 C720.9,763.7 722.7,759.9 724.1,757.2 C725.3,755.0 726.3,753.4 727.1,751.2 C728.0,748.7 728.7,745.7 729.1,743.1 C729.5,740.8 729.4,738.8 729.6,736.6 Z" fill="#0000c4"/><g clip-path="url(#cU)"><g filter="url(#bl4)"><ellipse cx="785.0" cy="734.0" rx="17.6" ry="6.0" fill="#000040" fill-opacity="0.60" transform="rotate(0.0 785.0 734.0)"/><ellipse cx="893.0" cy="733.0" rx="3.2" ry="8.2" fill="#000040" fill-opacity="0.85" transform="rotate(0.0 893.0 733.0)"/><ellipse cx="830.0" cy="733.0" rx="17.6" ry="4.5" fill="#4a4aff" fill-opacity="0.85" transform="rotate(0.0 830.0 733.0)"/><ellipse cx="909.0" cy="736.0" rx="4.0" ry="8.2" fill="#4a4aff" fill-opacity="0.75" transform="rotate(20.0 909.0 736.0)"/><ellipse cx="745.0" cy="737.0" rx="12.8" ry="5.2" fill="#1a1aff" fill-opacity="0.50" transform="rotate(0.0 745.0 737.0)"/><ellipse cx="866.0" cy="764.0" rx="33.6" ry="10.5" fill="#000040" fill-opacity="0.85" transform="rotate(0.0 866.0 764.0)"/><ellipse cx="956.0" cy="755.0" rx="11.2" ry="9.0" fill="#000040" fill-opacity="0.75" transform="rotate(0.0 956.0 755.0)"/><ellipse cx="765.0" cy="761.0" rx="28.0" ry="6.8" fill="#000040" fill-opacity="0.55" transform="rotate(15.0 765.0 761.0)"/><ellipse cx="936.0" cy="768.0" rx="4.0" ry="12.0" fill="#4a4aff" fill-opacity="0.70" transform="rotate(-15.0 936.0 768.0)"/><ellipse cx="811.0" cy="773.0" rx="6.4" ry="10.5" fill="#2020ff" fill-opacity="0.60" transform="rotate(0.0 811.0 773.0)"/><ellipse cx="850.0" cy="789.0" rx="36.0" ry="4.5" fill="#1a1aff" fill-opacity="0.50" transform="rotate(0.0 850.0 789.0)"/><ellipse cx="976.0" cy="779.0" rx="9.6" ry="5.2" fill="#1a1aff" fill-opacity="0.50" transform="rotate(0.0 976.0 779.0)"/><ellipse cx="722.0" cy="770.0" rx="8.0" ry="7.5" fill="#1010ff" fill-opacity="0.50" transform="rotate(0.0 722.0 770.0)"/></g></g><path d="M710.4,870.1 C711.1,872.4 711.7,875.0 712.5,877.0 C713.1,878.7 713.8,880.0 714.5,881.5 L714.5,881.5 C715.0,881.4 715.5,881.5 716.1,881.2 C717.2,880.7 718.7,879.4 720.1,878.2 C721.7,876.8 723.4,874.7 725.1,873.1 C726.8,871.5 728.2,869.7 730.2,868.6 C732.5,867.3 735.6,866.2 738.2,866.1 C740.6,866.0 742.8,866.8 745.2,867.6 C747.8,868.4 751.0,870.5 753.3,871.1 C754.9,871.5 756.2,871.3 757.6,871.4 L757.6,871.4 C758.3,869.6 759.1,868.1 759.6,866.0 C760.2,863.2 760.1,859.4 760.3,856.1 L760.3,856.1 L763.8,856.1 L763.8,856.1 C764.1,858.7 763.9,861.7 764.8,864.0 C765.6,866.0 767.1,867.4 768.3,869.1 L768.3,869.1 C770.7,869.4 773.2,870.2 775.4,870.1 C777.2,870.0 778.6,869.6 780.4,869.1 C782.8,868.5 785.8,867.3 788.4,866.6 C790.7,866.0 792.6,865.7 795.0,865.1 C798.0,864.3 801.7,863.0 805.1,862.1 C808.4,861.2 811.7,860.3 815.1,859.6 C818.4,858.9 821.8,858.4 825.2,858.1 C828.5,857.8 831.9,857.8 835.2,857.9 C838.6,858.0 842.0,858.2 845.3,858.6 C848.7,859.1 852.0,859.9 855.3,860.6 C858.7,861.4 862.1,862.2 865.4,863.1 C868.8,864.0 871.9,865.2 875.4,866.1 C879.2,867.1 883.6,868.5 887.5,868.6 C891.2,868.7 894.8,867.7 898.4,867.2 L898.4,867.2 C898.9,864.1 899.5,860.5 900.0,858.0 C900.4,856.2 900.8,854.9 901.2,853.4 L901.2,853.4 L905.2,854.0 L905.2,854.0 C905.6,856.7 905.5,859.5 906.4,862.0 C907.4,864.6 909.5,866.9 911.1,869.3 L911.1,869.3 C914.6,868.2 918.2,867.0 921.7,866.1 C925.2,865.2 928.7,864.6 932.2,864.0 C935.7,863.4 939.3,862.4 942.8,862.4 C946.3,862.4 949.9,862.9 953.3,864.0 C956.9,865.1 960.4,867.5 963.9,869.3 C967.4,871.0 970.9,872.9 974.4,874.5 C977.9,876.1 981.5,877.4 985.0,878.8 L985.0,878.8 C986.4,878.1 988.1,878.0 989.2,876.7 C991.0,874.6 991.3,869.3 992.4,865.6 L992.4,865.6 C992.7,867.9 993.4,870.1 993.2,872.4 C993.0,874.8 991.9,877.3 991.3,879.8 L991.3,879.8 C990.2,880.5 989.2,880.8 988.1,881.9 C986.4,883.7 984.5,887.5 982.9,890.4 C981.3,893.2 979.9,896.1 978.6,898.8 C977.4,901.3 976.3,903.7 975.5,906.2 C974.7,908.6 974.3,911.6 973.9,913.6 C973.7,914.9 973.6,915.7 973.4,916.8 L973.4,916.8 C970.2,918.2 967.2,919.9 963.9,921.0 C960.5,922.2 956.8,922.7 953.3,923.6 C949.8,924.5 946.3,925.6 942.8,926.3 C939.3,927.0 936.3,927.4 932.2,927.8 C926.4,928.4 918.1,928.9 911.1,929.4 C904.1,929.8 897.7,930.3 890.0,930.5 C880.9,930.8 870.0,930.7 860.0,930.7 C850.0,930.7 840.0,930.6 830.0,930.4 C820.0,930.2 808.9,930.1 800.0,929.6 C792.8,929.2 787.0,928.7 780.4,928.0 C773.7,927.3 767.0,926.3 760.3,925.4 C753.6,924.5 745.8,923.5 740.2,922.4 C736.1,921.6 733.3,920.8 729.8,920.0 L729.8,920.0 C729.6,918.5 729.4,917.0 729.1,915.4 C728.8,913.5 728.7,911.4 728.1,909.3 C727.4,907.0 726.3,904.8 725.1,902.3 C723.7,899.4 721.8,896.0 720.1,893.2 C718.5,890.6 716.6,888.2 715.1,886.0 C713.9,884.2 712.6,883.1 711.8,881.0 C710.7,878.2 710.9,873.7 710.4,870.1 Z" fill="#0000d6"/><g clip-path="url(#cL)"><g filter="url(#bl4)"><ellipse cx="848.0" cy="866.0" rx="17.6" ry="3.0" fill="#4a4aff" fill-opacity="0.80" transform="rotate(0.0 848.0 866.0)"/><ellipse cx="925.0" cy="885.0" rx="7.2" ry="3.8" fill="#4a4aff" fill-opacity="0.70" transform="rotate(-20.0 925.0 885.0)"/><ellipse cx="905.0" cy="873.0" rx="8.0" ry="4.5" fill="#3030ff" fill-opacity="0.50" transform="rotate(0.0 905.0 873.0)"/><ellipse cx="770.0" cy="877.0" rx="7.2" ry="5.2" fill="#3535ff" fill-opacity="0.60" transform="rotate(0.0 770.0 877.0)"/><ellipse cx="740.0" cy="872.0" rx="16.0" ry="4.5" fill="#0808f0" fill-opacity="0.50" transform="rotate(0.0 740.0 872.0)"/></g><path d="M712.0,884.0 C714.7,884.7 717.3,886.2 720.1,886.2 C723.3,886.2 726.8,884.0 730.2,883.2 C733.5,882.4 736.9,881.8 740.2,881.2 C743.6,880.6 746.9,879.8 750.3,879.7 C753.6,879.6 757.0,880.0 760.3,880.7 C763.7,881.4 767.1,882.6 770.4,883.7 C773.8,884.8 777.1,885.8 780.4,887.2 C783.8,888.6 787.1,890.8 790.5,892.2 C793.7,893.5 797.3,894.7 800.0,895.3 C801.9,895.7 803.1,895.7 805.1,895.8 C807.9,896.0 811.8,896.7 815.1,896.3 C818.5,895.9 821.8,894.2 825.2,893.2 C828.5,892.2 831.8,891.1 835.2,890.2 C838.5,889.3 841.9,888.4 845.3,887.7 C848.6,887.0 852.0,886.6 855.3,886.2 C858.7,885.8 862.0,885.4 865.4,885.2 C868.7,885.0 872.1,885.1 875.4,885.2 C878.8,885.3 882.8,885.3 885.5,885.7 C887.3,886.0 888.2,886.5 890.0,887.0 C892.8,887.7 897.1,888.6 900.6,889.3 C904.1,890.0 907.6,890.7 911.1,891.4 C914.6,892.1 918.2,893.1 921.7,893.5 C925.2,893.9 928.9,894.1 932.2,894.1 C935.2,894.1 938.0,894.0 940.7,893.5 C943.3,893.0 945.7,892.6 948.0,891.4 C950.6,890.0 952.8,887.2 955.4,885.1 C958.1,883.0 961.0,880.4 963.9,878.8 C966.6,877.3 969.2,875.8 972.3,875.6 C976.1,875.4 981.0,878.1 985.0,878.8 C988.5,879.5 991.7,879.6 995.0,880.0 L1000,880 L1000,945 L700,945 L700,884 Z" fill="url(#frontg)"/><g filter="url(#bl4)"><ellipse cx="866.0" cy="898.0" rx="38.4" ry="9.0" fill="#000040" fill-opacity="0.90" transform="rotate(0.0 866.0 898.0)"/><ellipse cx="930.0" cy="903.0" rx="11.2" ry="9.0" fill="#000040" fill-opacity="0.85" transform="rotate(0.0 930.0 903.0)"/><ellipse cx="862.0" cy="918.0" rx="24.0" ry="6.0" fill="#1818f0" fill-opacity="0.70" transform="rotate(0.0 862.0 918.0)"/><ellipse cx="958.0" cy="905.0" rx="8.0" ry="9.0" fill="#0a0aff" fill-opacity="0.80" transform="rotate(0.0 958.0 905.0)"/><ellipse cx="765.0" cy="897.0" rx="28.0" ry="7.5" fill="#000070" fill-opacity="0.55" transform="rotate(0.0 765.0 897.0)"/></g></g><path d="M709.0,737.6L800.0,749.8L942.5,747.0L993.4,733.0 M709.0,920.4L800.0,932.6L942.5,929.8L993.4,915.8 M709.0,737.6L709.0,920.4 M800.0,749.8L800.0,932.6 M942.5,747.0L942.5,929.8 M993.4,733.0L993.4,915.8 " fill="none" stroke="#000" stroke-width="2" stroke-linejoin="round"/>
</svg></body></html>
